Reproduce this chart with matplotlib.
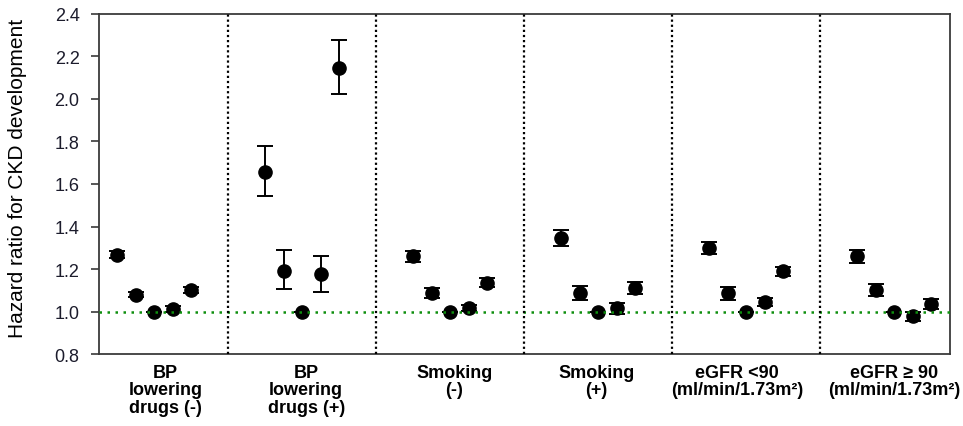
import numpy as np
import matplotlib.pyplot as plt

plt.rcParams["font.family"] = ["Liberation Sans", "DejaVu Sans"]

# subgroup labels along the x axis
groups = [
    "BP\nlowering\ndrugs (-)",
    "BP\nlowering\ndrugs (+)",
    "Smoking\n(-)",
    "Smoking\n(+)",
    "eGFR <90\n(ml/min/1.73m²)",
    "eGFR ≥ 90\n(ml/min/1.73m²)",
]

# hazard ratios, five categories per subgroup (third one is the reference)
hr = [
    [1.267, 1.079, 1.00, 1.012, 1.101],
    [1.658, 1.192, 1.00, 1.175, 2.146],
    [1.259, 1.087, 1.00, 1.015, 1.136],
    [1.347, 1.087, 1.00, 1.016, 1.112],
    [1.300, 1.087, 1.00, 1.046, 1.189],
    [1.259, 1.101, 1.00, 0.977, 1.034],
]
ci_low = [
    [1.252, 1.066, 1.00, 1.000, 1.087],
    [1.545, 1.106, 1.00, 1.093, 2.022],
    [1.233, 1.065, 1.00, 1.001, 1.114],
    [1.310, 1.054, 1.00, 0.988, 1.082],
    [1.269, 1.056, 1.00, 1.024, 1.167],
    [1.228, 1.073, 1.00, 0.953, 1.012],
]
ci_high = [
    [1.283, 1.093, 1.00, 1.025, 1.116],
    [1.779, 1.289, 1.00, 1.261, 2.278],
    [1.283, 1.112, 1.00, 1.030, 1.156],
    [1.385, 1.118, 1.00, 1.040, 1.140],
    [1.327, 1.113, 1.00, 1.065, 1.211],
    [1.291, 1.129, 1.00, 0.999, 1.059],
]

# layout: 8 units between subgroups, 1 unit between points
group_step = 8
label_x = [2.6, 10.2, 18.2, 25.9, 33.5, 42.0]

fig = plt.figure(figsize=(9.63, 4.27), dpi=100)
ax = fig.add_axes([0.1028, 0.1686, 0.8837, 0.7963])

for g in range(len(groups)):
    x = np.arange(5) + g * group_step
    y = np.array(hr[g])
    lo = y - np.array(ci_low[g])
    hi = np.array(ci_high[g]) - y
    ax.errorbar(x, y, yerr=[lo, hi], fmt="o", color="black", ecolor="black",
                markersize=9.5, elinewidth=1.4, capsize=5.5, capthick=1.4, zorder=3)

# reference line at HR = 1
ax.axhline(1.0, color="#0e8f0e", linestyle=(0, (1, 2.2)), linewidth=1.8, zorder=4)

# dotted separators between subgroups
for g in range(1, len(groups)):
    ax.axvline(g * group_step - 2, color="black", linestyle=(0, (1, 1.3)),
               linewidth=1.6, zorder=5)

ax.set_xlim(-1, 45)
ax.set_ylim(0.8, 2.4)
ax.set_yticks(np.arange(0.8, 2.41, 0.2))
ax.set_yticklabels([f"{v:.1f}" for v in np.arange(0.8, 2.41, 0.2)])
ax.set_xticks([])

for s in ax.spines.values():
    s.set_color("#3a3a3a")
    s.set_linewidth(1.3)

ax.tick_params(axis="y", direction="out", length=6, width=1.2, color="#3a3a3a",
               labelsize=13, labelcolor="#1c1c2c", pad=8)

ax.set_ylabel("Hazard ratio for CKD development", fontsize=15)
ax.yaxis.set_label_coords(-0.085, 0.52)

for xpos, lab in zip(label_x, groups):
    ax.text(xpos, -0.028, lab, transform=ax.get_xaxis_transform(), ha="center",
            va="top", fontsize=13, fontweight="bold", linespacing=1.05,
            clip_on=False)

fig.savefig("out.png", dpi=100)
